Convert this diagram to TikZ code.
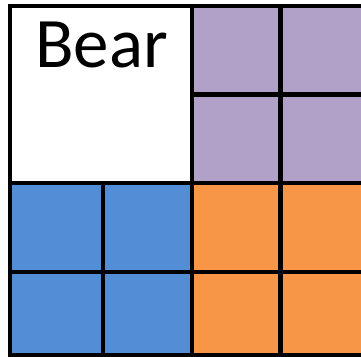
\documentclass[tikz,border=0pt]{standalone}
\usepackage{fontspec}
\setmainfont{Carlito}
\definecolor{lav}{HTML}{B1A0C7}
\definecolor{blu}{HTML}{538DD5}
\definecolor{org}{HTML}{F79646}
\begin{document}
\begin{tikzpicture}[x=1pt,y=-1pt,
  gridline/.style={line width=4.6pt,black,line cap=rect}]
\useasboundingbox (0,0) rectangle (361,356);
\clip (0,0) rectangle (361,356);
\fill[white] (0,0) rectangle (361,356);
% fills
\fill[lav] (192,6) rectangle (375,183);
\fill[blu] (10,183) rectangle (192,370);
\fill[org] (192,183) rectangle (375,370);
% grid lines
\draw[gridline] (10,6) -- (375,6);
\draw[gridline] (192,94.5) -- (375,94.5);
\draw[gridline] (10,183) -- (375,183);
\draw[gridline] (10,272) -- (375,272);
\draw[gridline] (10,355.5) -- (375,355.5);
\draw[gridline] (10,6) -- (10,370);
\draw[gridline] (192,6) -- (192,370);
\draw[gridline] (280.5,6) -- (280.5,370);
\draw[gridline] (103,183) -- (103,370);
% text
\node[anchor=base west,inner sep=0pt,font=\fontsize{71}{80}\selectfont] (bear) at (35,67) {Bear};
\end{tikzpicture}
\end{document}
